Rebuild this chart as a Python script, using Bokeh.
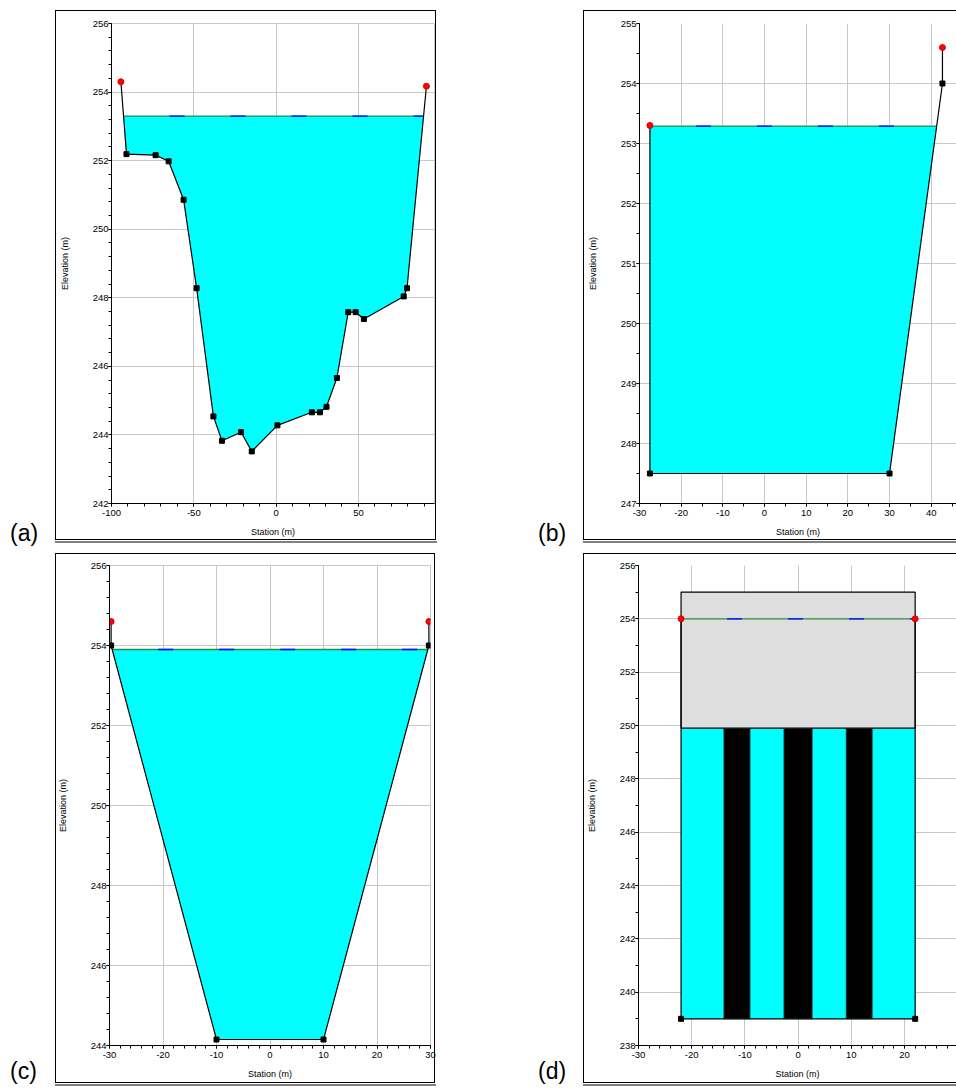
from bokeh.plotting import figure
from bokeh.models import FixedTicker, Div
from bokeh.layouts import column, row
from bokeh.embed import file_html
from bokeh.resources import INLINE
import numpy as np

# ---------------- (a) natural river section ----------------
A_STATION = [-94.3, -90.9, -73.2, -65.3, -56.2, -48.3, -38.1, -32.9, -21.3, -14.8,
             0.8, 21.7, 26.6, 30.6, 36.9, 43.8, 48.3, 53.3, 77.5, 79.5, 91.3]
A_ELEV = [254.30, 252.19, 252.16, 251.98, 250.86, 248.28, 244.54, 243.83, 244.08, 243.52,
          244.28, 244.66, 244.66, 244.82, 245.66, 247.58, 247.58, 247.38, 248.04, 248.28, 254.17]
A_WS = 253.30
A_XTICKS = [-100, -50, 0, 50]
A_XLABELS = ["-100", "-50", "0", "50"]
A_YTICKS = [242, 244, 246, 248, 250, 252, 254, 256]
A_YLABELS = ["242", "244", "246", "248", "250", "252", "254", "256"]

# ---------------- (b) rectangular/trapezoid section ----------------
B_STATION = [-27.5, -27.5, 30.0, 42.7, 42.7]
B_ELEV = [253.30, 247.50, 247.50, 254.00, 254.60]
B_WS = 253.29
B_XTICKS = [-30, -20, -10, 0, 10, 20, 30, 40]
B_XLABELS = ["-30", "-20", "-10", "0", "10", "20", "30", "40"]
B_YTICKS = [247, 248, 249, 250, 251, 252, 253, 254, 255]
B_YLABELS = ["247", "248", "249", "250", "251", "252", "253", "254", "255"]

# ---------------- (c) trapezoidal channel ----------------
C_STATION = [-29.7, -29.7, -10.0, 10.0, 29.7, 29.7]
C_ELEV = [254.60, 254.00, 244.15, 244.15, 254.00, 254.60]
C_WS = 253.90
C_XTICKS = [-30, -20, -10, 0, 10, 20, 30]
C_XLABELS = ["-30", "-20", "-10", "0", "10", "20", "30"]
C_YTICKS = [244, 246, 248, 250, 252, 254, 256]
C_YLABELS = ["244", "246", "248", "250", "252", "254", "256"]

# ---------------- (d) bridge section ----------------
D_STATION = [-22.0, -22.0, 22.0, 22.0]
D_ELEV = [254.00, 239.00, 239.00, 254.00]
D_WS = 254.00
D_DECK_LEFT, D_DECK_RIGHT = -22.0, 22.0
D_LOW_CHORD, D_HIGH_CHORD = 249.9, 255.0
D_PIER_LEFT = [-14.0, -2.7, 9.0]
D_PIER_RIGHT = [-9.0, 2.7, 14.0]
D_XTICKS = [-30, -20, -10, 0, 10, 20, 30]
D_XLABELS = ["-30", "-20", "-10", "0", "10", "20", "30"]
D_YTICKS = [238, 240, 242, 244, 246, 248, 250, 252, 254, 256]
D_YLABELS = ["238", "240", "242", "244", "246", "248", "250", "252", "254", "256"]

PANEL_TAGS = ["(a)", "(b)", "(c)", "(d)"]

FONT = "Liberation Sans"
CYAN = "#00ffff"
GRID = "#c8c8c8"


def wetted_polygon(xs, ys, ws):
    """Part of the ground profile lying below the water surface."""
    px, py = [], []
    n = len(xs)
    for i in range(n - 1):
        x0, y0, x1, y1 = xs[i], ys[i], xs[i + 1], ys[i + 1]
        if y0 <= ws:
            px.append(x0)
            py.append(y0)
        if (y0 - ws) * (y1 - ws) < 0:
            t = (ws - y0) / (y1 - y0)
            px.append(x0 + t * (x1 - x0))
            py.append(ws)
    if ys[-1] <= ws:
        px.append(xs[-1])
        py.append(ys[-1])
    return px, py


def make_panel(xr, yr, height, borders, xt, xl, xminor, yt, yl, yminor, outline):
    left, right, top, bottom = borders
    p = figure(width=478, height=height, x_range=xr, y_range=yr,
               output_backend="svg", toolbar_location=None,
               min_border_left=left, min_border_right=right,
               min_border_top=top, min_border_bottom=bottom)
    p.background_fill_color = "white"
    p.border_fill_color = "white"
    p.outline_line_color = outline
    p.xaxis.ticker = FixedTicker(ticks=xt, minor_ticks=xminor)
    p.yaxis.ticker = FixedTicker(ticks=yt, minor_ticks=yminor)
    p.xaxis.major_label_overrides = {t: s for t, s in zip(xt, xl)}
    p.yaxis.major_label_overrides = {t: s for t, s in zip(yt, yl)}
    p.xaxis.axis_label = "Station (m)"
    p.yaxis.axis_label = "Elevation (m)"
    for ax in (p.xaxis, p.yaxis):
        ax.axis_line_color = "black"
        ax.axis_line_width = 1
        ax.major_tick_line_color = "black"
        ax.minor_tick_line_color = "black"
        ax.major_tick_in = 0
        ax.major_tick_out = 3
        ax.minor_tick_in = 0
        ax.minor_tick_out = 3
        ax.major_label_text_font = FONT
        ax.major_label_text_font_size = "9.5px"
        ax.major_label_text_color = "black"
        ax.axis_label_text_font = FONT
        ax.axis_label_text_font_size = "9px"
        ax.axis_label_text_font_style = "normal"
        ax.axis_label_text_color = "black"
    p.xaxis.major_label_standoff = 3
    p.yaxis.major_label_standoff = 0
    p.xaxis.axis_label_standoff = 8
    p.yaxis.axis_label_standoff = 20
    p.xgrid.grid_line_color = GRID
    p.ygrid.grid_line_color = GRID
    p.xgrid.grid_line_width = 1
    p.ygrid.grid_line_width = 1
    return p


def draw_profile(p, xs, ys, ws, ws_left, ws_right):
    p.line([ws_left, ws_right], [ws, ws], line_color="#2a8a4a", line_width=1.3)
    p.line([ws_left, ws_right], [ws, ws], line_color="#0000ff", line_width=1.3,
           line_dash="15 46", line_dash_offset=15)
    p.line(xs, ys, line_color="black", line_width=1.2)
    p.scatter(xs[1:-1], ys[1:-1], marker="square", size=5,
              fill_color="black", line_color="black")
    p.scatter([xs[0], xs[-1]], [ys[0], ys[-1]], marker="circle", size=6,
              fill_color="#ff0000", line_color="#e00000")


def draw_section(p, xs, ys, ws):
    wx, wy = wetted_polygon(xs, ys, ws)
    p.patch(wx, wy, fill_color=CYAN, line_color=None)
    at_ws = [x for x, y in zip(wx, wy) if abs(y - ws) < 1e-9]
    draw_profile(p, xs, ys, ws, min(at_ws), max(at_ws))


# ---- panel (a)
pa = make_panel((-100, 96.2), (242, 256), 550, (111, 44, 22, 47),
                A_XTICKS, A_XLABELS, list(np.arange(-100, 96, 10)),
                A_YTICKS, A_YLABELS, list(np.round(np.arange(242, 256.01, 0.4), 2)),
                GRID)
draw_section(pa, A_STATION, A_ELEV, A_WS)

# ---- panel (b)
pb = make_panel((-30, 46.07), (247, 255), 550, (161, 0, 23, 47),
                B_XTICKS, B_XLABELS, list(np.arange(-30, 46.1, 5)),
                B_YTICKS, B_YLABELS, list(np.arange(247, 255.01, 0.5)),
                None)
draw_section(pb, B_STATION, B_ELEV, B_WS)

# ---- panel (c)
pc = make_panel((-30, 30), (244, 256), 538, (109, 48, 15, 42),
                C_XTICKS, C_XLABELS, list(np.arange(-30, 30.1, 2)),
                C_YTICKS, C_YLABELS, list(np.round(np.arange(244, 256.01, 0.4), 2)),
                GRID)
draw_section(pc, C_STATION, C_ELEV, C_WS)

# ---- panel (d): bridge with deck and piers
pd = make_panel((-30, 29.77), (238, 256), 538, (160, 0, 10, 43),
                D_XTICKS, D_XLABELS, list(np.arange(-30, 29.8, 2)),
                D_YTICKS, D_YLABELS, list(np.arange(238, 256.01, 1)),
                None)
wx, wy = wetted_polygon(D_STATION, D_ELEV, D_WS)
pd.patch(wx, wy, fill_color=CYAN, line_color=None)
pd.quad(left=D_PIER_LEFT, right=D_PIER_RIGHT,
        bottom=[min(D_ELEV)] * len(D_PIER_LEFT), top=[D_LOW_CHORD] * len(D_PIER_LEFT),
        fill_color="black", line_color="#2a8a8a", line_width=0.8)
pd.quad(left=[D_DECK_LEFT], right=[D_DECK_RIGHT], bottom=[D_LOW_CHORD], top=[D_HIGH_CHORD],
        fill_color="#dedede", line_color="black", line_width=1.2)
draw_profile(pd, D_STATION, D_ELEV, D_WS, D_DECK_LEFT, D_DECK_RIGHT)

# ---- window frames around each panel and the panel tags, as an HTML overlay
frames = [  # left, top, width, height of each framed window
    (55, 10, 381, 530),
    (583, 10, 420, 530),
    (55, 553, 380, 530),
    (583, 553, 420, 530),
]
tag_pos = [(10, 522), (538, 522), (10, 1060), (538, 1060)]
parts = []
for (fl, ft, fw, fh) in frames:
    parts.append(
        f'<div style="position:absolute;left:{fl}px;top:{ft}px;width:{fw}px;height:{fh}px;'
        f'box-sizing:border-box;border:1.3px solid #000;"></div>'
        f'<div style="position:absolute;left:{fl}px;top:{ft + fh + 1}px;width:{fw + 1}px;height:1.5px;'
        f'background:#808080;"></div>')
for tag, (tx, ty) in zip(PANEL_TAGS, tag_pos):
    parts.append(
        f'<div style="position:absolute;left:{tx}px;top:{ty}px;font-family:\'{FONT}\';'
        f'font-size:23px;line-height:23px;color:#000;white-space:nowrap;">{tag}</div>')
overlay_html = ('<div style="position:relative;width:956px;height:1088px;overflow:hidden;">'
                + "".join(parts) + "</div>")
overlay = Div(text=overlay_html, width=956, height=1088, margin=0,
              styles={"position": "absolute", "top": "0px", "left": "0px",
                      "pointer-events": "none", "z-index": "10"})

layout = column(row(pa, pb), row(pc, pd), overlay)
open("out.html", "w").write(file_html(layout, INLINE))
